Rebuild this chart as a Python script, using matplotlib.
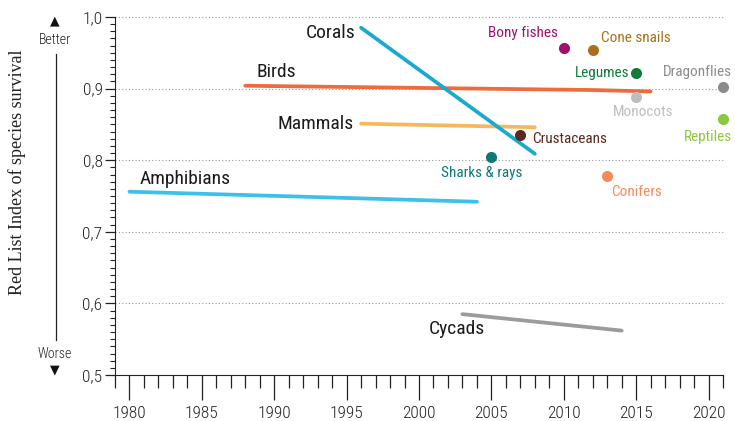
import matplotlib
matplotlib.use("Agg")
import matplotlib.pyplot as plt
from matplotlib.ticker import MultipleLocator
from matplotlib import font_manager

# line series: (years, values)
corals_x = [1996, 2008]
corals_y = [0.985, 0.809]
birds_x = [1988, 1996, 2004, 2012, 2016]
birds_y = [0.904, 0.902, 0.900, 0.898, 0.896]
mammals_x = [1996, 2008]
mammals_y = [0.851, 0.846]
amphibians_x = [1980, 2004]
amphibians_y = [0.756, 0.742]
cycads_x = [2003, 2014]
cycads_y = [0.585, 0.562]

# single assessments
dot_names = ["Bony fishes", "Cone snails", "Legumes", "Dragonflies", "Monocots",
             "Reptiles", "Crustaceans", "Sharks & rays", "Conifers"]
dot_years = [2010, 2012, 2015, 2021, 2015, 2021, 2007, 2005, 2013]
dot_values = [0.957, 0.954, 0.922, 0.902, 0.888, 0.858, 0.835, 0.804, 0.778]

names = set(f.name for f in font_manager.fontManager.ttflist)
narrow = "DejaVu Sans"
for cand in ["Roboto Condensed", "Archivo Narrow", "PT Sans Narrow",
             "Liberation Sans Narrow", "Encode Sans Condensed", "Open Sans Condensed"]:
    if cand in names:
        narrow = cand
        break

fig = plt.figure(figsize=(7.35, 4.21), dpi=100)
ax = fig.add_axes([115 / 735, 1 - 375 / 421, (723 - 115) / 735, (375 - 17) / 421])

ax.set_xlim(1979.0, 2021.0)
ax.set_ylim(0.5, 1.0)

for y in [0.6, 0.7, 0.8, 0.9, 1.0]:
    ax.axhline(y, color="#9a9a9a", lw=0.8, ls=(0, (1, 2)), zorder=0, clip_on=False)

lw = 2.7
ax.plot(amphibians_x, amphibians_y, color="#3dc1ea", lw=lw, solid_capstyle="round")
ax.plot(birds_x, birds_y, color="#ef6a3c", lw=lw, solid_capstyle="round")
ax.plot(mammals_x, mammals_y, color="#f8b75c", lw=lw, solid_capstyle="round")
ax.plot(cycads_x, cycads_y, color="#9b9b9b", lw=lw, solid_capstyle="round")
ax.plot(corals_x, corals_y, color="#1aa9cf", lw=lw, solid_capstyle="round")

dot_colors = ["#a0106e", "#a8701c", "#137a3c", "#8c8c8c", "#bebebe",
              "#8dc63f", "#5a2a20", "#107878", "#f48c5a"]
for xv, yv, c in zip(dot_years, dot_values, dot_colors):
    ax.plot(xv, yv, "o", ms=8, color=c, mec="none", clip_on=False, zorder=5)

# point labels
lab = dict(fontsize=11, family=narrow, va="center")
ax.text(2009.6, 0.977, "Bony fishes", color=dot_colors[0], ha="right", **lab)
ax.text(2012.6, 0.970, "Cone snails", color=dot_colors[1], ha="left", **lab)
ax.text(2014.5, 0.922, "Legumes", color=dot_colors[2], ha="right", **lab)
ax.text(2021.6, 0.923, "Dragonflies", color=dot_colors[3], ha="right", **lab)
ax.text(2015.5, 0.867, "Monocots", color=dot_colors[4], ha="center", **lab)
ax.text(2021.6, 0.832, "Reptiles", color=dot_colors[5], ha="right", **lab)
ax.text(2007.8, 0.830, "Crustaceans", color=dot_colors[6], ha="left", **lab)
ax.text(2004.3, 0.782, "Sharks & rays", color=dot_colors[7], ha="center", **lab)
ax.text(2015.0, 0.756, "Conifers", color=dot_colors[8], ha="center", **lab)

# line labels
big = dict(fontsize=14, family=narrow, va="center", color="#1a1a1a")
ax.text(1995.6, 0.978, "Corals", ha="right", **big)
ax.text(1988.8, 0.923, "Birds", ha="left", **big)
ax.text(1995.5, 0.851, "Mammals", ha="right", **big)
ax.text(1980.7, 0.774, "Amphibians", ha="left", **big)
ax.text(2002.6, 0.564, "Cycads", ha="center", **big)

# axes styling
for s in ["top", "right"]:
    ax.spines[s].set_visible(False)
ax.spines["left"].set_color("#222222")
ax.spines["bottom"].set_color("#222222")
ax.xaxis.set_minor_locator(MultipleLocator(1))
ax.yaxis.set_minor_locator(MultipleLocator(0.01))
ax.set_xticks(range(1980, 2021, 5))
ax.tick_params(axis="x", which="major", length=18, width=0.9, color="#222222",
               labelsize=12.5, pad=4)
ax.tick_params(axis="x", which="minor", length=9, width=0.9, color="#222222")
ax.tick_params(axis="y", which="major", length=7, width=0.9, color="#222222",
               labelsize=12.5, pad=2)
ax.tick_params(axis="y", which="minor", length=3.5, width=0.8, color="#222222")
ax.set_yticks([0.5, 0.6, 0.7, 0.8, 0.9, 1.0])
ax.set_yticklabels(["0,5", "0,6", "0,7", "0,8", "0,9", "1,0"])
for t in ax.get_xticklabels() + ax.get_yticklabels():
    t.set_family(narrow)
    t.set_weight("light")
    t.set_color("#222222")

# left side: better / worse indicator
fig.text(17 / 735, 1 - 172 / 421, "Red List Index of species survival", rotation=90,
         ha="center", va="center", fontsize=13, family="Liberation Serif", color="#222222")
fig.text(55 / 735, 1 - 21 / 421, "\u25B2", ha="center", va="center", fontsize=9, color="#111111")
fig.text(55 / 735, 1 - 40 / 421, "Better", ha="center", va="center", fontsize=10,
         family=narrow, weight="light", color="#222222")
fig.add_artist(plt.Line2D([56 / 735, 56 / 735], [1 - 54 / 421, 1 - 340 / 421],
                          color="#222222", lw=0.9))
fig.text(55 / 735, 1 - 354 / 421, "Worse", ha="center", va="center", fontsize=10,
         family=narrow, weight="light", color="#222222")
fig.text(55 / 735, 1 - 370 / 421, "\u25BC", ha="center", va="center", fontsize=9, color="#111111")

fig.savefig("out.png", dpi=100)
